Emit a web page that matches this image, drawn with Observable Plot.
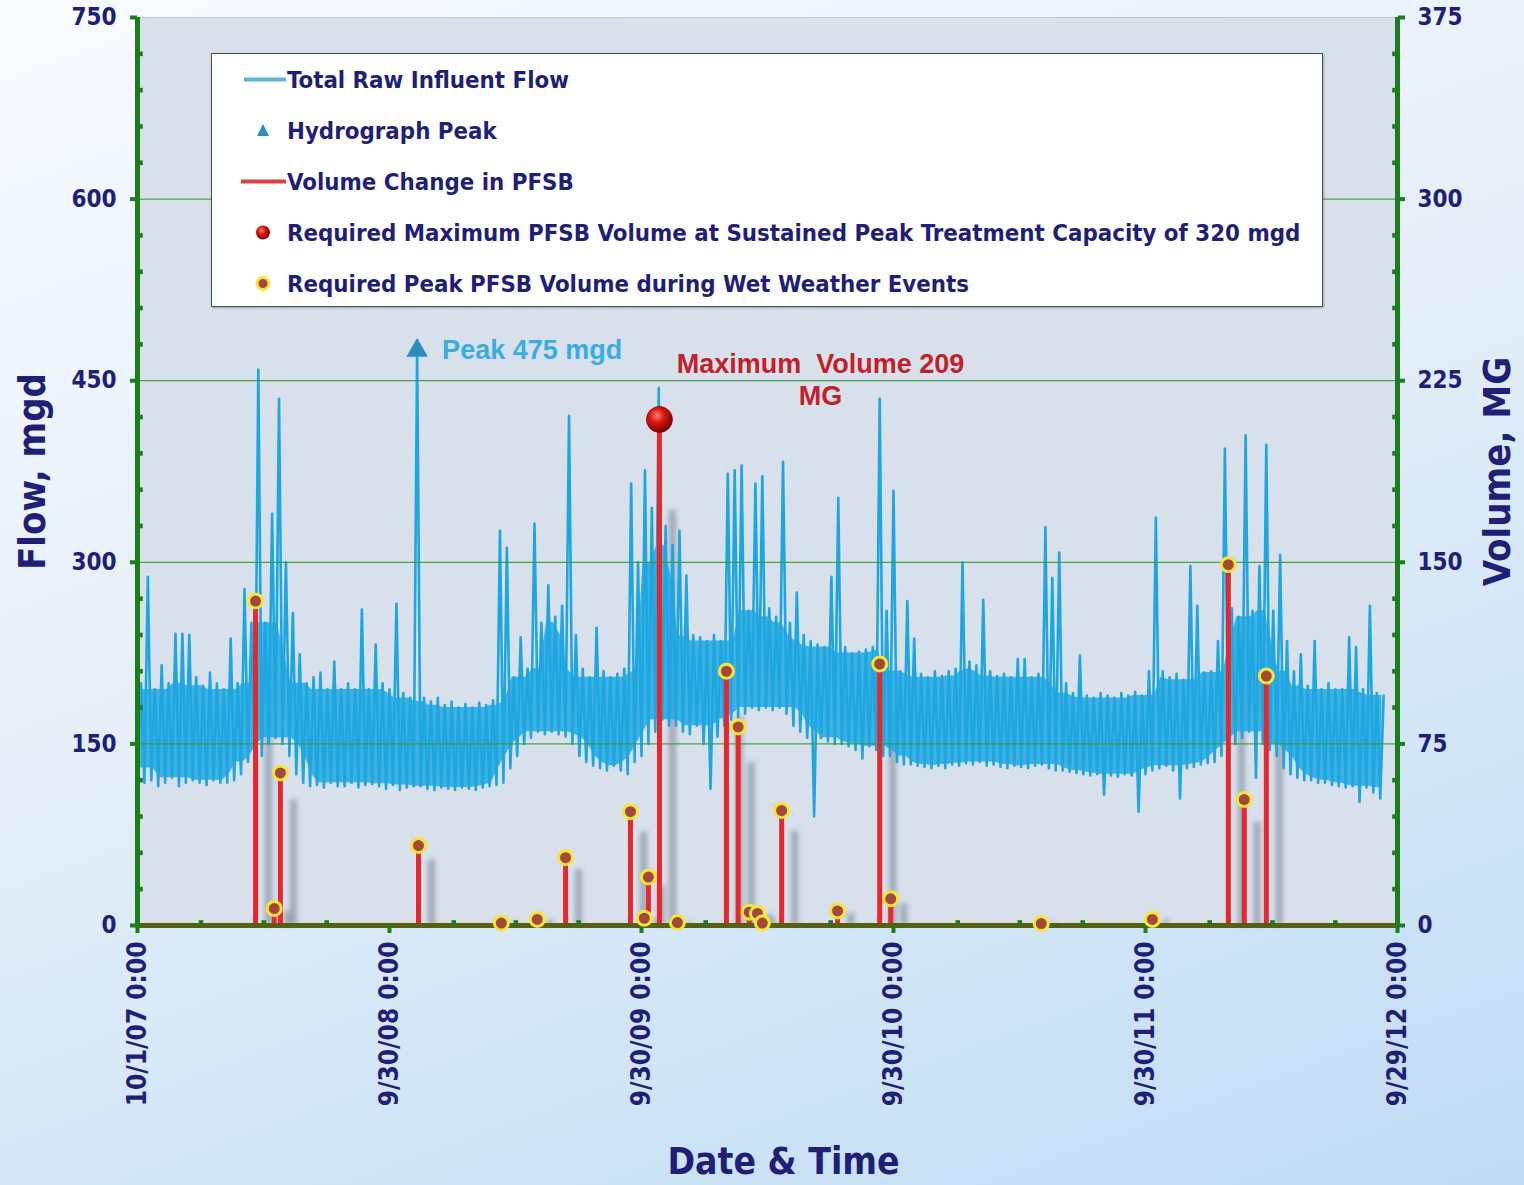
<!DOCTYPE html>
<html>
<head>
<meta charset="utf-8">
<script src="https://cdn.jsdelivr.net/npm/d3@7"></script>
<script src="https://cdn.jsdelivr.net/npm/@observablehq/plot@0.6"></script>
<style>
  html, body { margin: 0; padding: 0; }
  #wrap {
    position: relative; width: 1524px; height: 1185px; overflow: hidden;
    background: linear-gradient(160deg, #f8fbfe 0%, #e4eff9 45%, #c0dcf4 100%);
    font-family: "DejaVu Sans Condensed", "DejaVu Sans", sans-serif;
    font-stretch: condensed;
  }
  #legend {
    position: absolute; left: 211px; top: 53px; width: 1112px; height: 254px;
    background: #ffffff; border: 1.5px solid #46524a; box-sizing: border-box;
    box-shadow: 1px 1px 2px rgba(60,70,80,0.4);
  }
  #legend .row { display: flex; align-items: center; height: 51px; }
  #legend .row svg { flex: none; }
  #legend .row span { font-size: 23.8px; font-weight: bold; color: #1f1f78; white-space: nowrap; margin-left: 0px; }
</style>
</head>
<body>
<div id="wrap"><div id="chart"></div><div id="legend"></div></div>
<script>
// ---------------- data ----------------
const startDate = "2007-10-01";
const endDate = "2012-09-29";
const sampleStepDays = 10; // one low and one high reading per 10-day window

const flowLow = [
  130,118,120,115,118,122,115,118,120,118,
  116,120,118,118,120,125,135,131,140,150,
  155,150,140,125,118,115,116,114,118,115,
  115,118,114,116,117,115,113,116,112,114,
  115,115,113,112,114,113,112,114,113,112,
  114,115,116,118,130,140,150,155,160,158,
  160,158,156,150,140,135,132,130,128,132,
  128,125,135,140,150,160,170,165,165,160,
  158,165,150,113,156,165,170,172,175,180,
  178,180,178,180,175,165,160,155,90,155,
  152,150,150,148,145,138,148,145,140,140,
  135,133,133,132,131,130,132,130,133,132,
  134,133,135,132,133,131,130,132,131,130,
  132,133,130,128,128,127,126,125,124,125,
  108,124,123,125,124,94,125,128,130,132,
  128,105,130,131,133,134,135,140,145,150,
  155,160,122,150,145,140,130,125,122,120,
  120,118,118,116,115,114,115,102,114,110,
  105
];
const flowHigh = [
  200,288,195,215,200,241,241,240,205,198,
  209,200,195,237,200,278,250,459,250,340,
  435,300,258,224,200,205,209,195,218,195,
  200,195,261,195,232,200,195,266,192,188,
  475,188,185,188,182,185,180,183,180,184,
  182,186,326,312,205,238,212,332,250,281,
  255,264,421,240,212,205,246,210,205,208,
  212,365,300,376,345,444,330,314,326,289,
  240,238,235,240,235,373,376,380,260,365,
  371,262,255,383,250,275,240,235,232,230,
  288,353,230,225,226,228,230,435,260,359,
  210,268,237,208,205,210,206,210,212,300,
  218,215,269,210,206,208,205,220,220,205,
  208,329,287,308,200,192,223,190,188,192,
  190,188,192,190,193,190,210,337,210,205,
  208,203,297,264,209,210,235,394,262,255,
  405,260,297,397,260,306,235,210,224,198,
  235,195,200,195,195,238,230,195,264,192,
  190
];

const eventDates = [
  "2008-03-20","2008-04-16","2008-04-25","2008-11-11","2009-03-11","2009-05-02",
  "2009-06-12","2009-09-14","2009-10-04","2009-10-10","2009-11-21","2010-01-31",
  "2010-02-17","2010-03-05","2010-03-17","2010-03-24","2010-04-21","2010-07-11",
  "2010-09-10","2010-09-26","2011-05-02","2011-10-10","2012-01-28","2012-02-20",
  "2012-03-23"
];
const eventVolumes = [
  134, 7, 63, 33, 1, 2.5,
  28, 47, 3, 20, 1.2, 105,
  82, 5.5, 5, 1, 47.5, 6,
  108, 11, 0.8, 2.5, 149, 52,
  103
];
const maxVolumeDate = "2009-10-26";
const maxVolume = 209;

const xTickDates = ["2007-10-01","2008-09-30","2009-09-30","2010-09-30","2011-09-30","2012-09-29"];
const xTickLabels = ["10/1/07 0:00","9/30/08 0:00","9/30/09 0:00","9/30/10 0:00","9/30/11 0:00","9/29/12 0:00"];
const flowTicks = [0,150,300,450,600,750];
const volumeTicks = [0,75,150,225,300,375];

const legendLabels = [
  "Total Raw Influent Flow",
  "Hydrograph Peak",
  "Volume Change in PFSB",
  "Required Maximum PFSB Volume at Sustained Peak Treatment Capacity of 320 mgd",
  "Required Peak PFSB Volume during Wet Weather Events"
];

// ---------------- build ----------------
const DAY = 864e5;
const utc = s => new Date(s + "T00:00:00Z");
const tStart = utc(startDate), tEnd = utc(endDate);
const VF = flowTicks[flowTicks.length - 1] / volumeTicks[volumeTicks.length - 1];

const flowData = [];
flowLow.forEach((v, i) => {
  flowData.push({date: new Date(+tStart + i * sampleStepDays * DAY), flow: v});
  flowData.push({date: new Date(+tStart + (i * sampleStepDays + sampleStepDays / 2) * DAY), flow: flowHigh[i]});
});
// dense daily band: envelope of the same readings without isolated storm spikes/dips
const win = (arr, i, f) => f(arr.slice(Math.max(0, i - 2), i + 3));
const bandData = flowLow.map((v, i) => ({
  date: new Date(+tStart + (i * sampleStepDays + sampleStepDays / 4) * DAY),
  low: win(flowLow, i, d3.max),
  high: win(flowHigh, i, d3.min)
}));
const peak = d3.greatest(flowData, d => d.flow);

const events = eventDates.map((d, i) => ({date: utc(d), vol: eventVolumes[i]}));
const maxEvent = {date: utc(maxVolumeDate), vol: maxVolume};
const allEvents = events.concat([maxEvent]);

const xTicks = xTickDates.map(utc);
const labelMap = new Map(xTicks.map((d, i) => [+d, xTickLabels[i]]));
const volMap = new Map(flowTicks.map((d, i) => [d, volumeTicks[i]]));
const minorFlow = d3.range(0, 751, 30).filter(v => !flowTicks.includes(v));
const quarters = d3.utcMonth.every(3).range(tStart, tEnd).filter(d => !xTicks.some(t => Math.abs(t - d) < 5 * DAY));

const green = "#1b7d1b", navy = "#1f1f78";
const FONT = '"DejaVu Sans Condensed", "DejaVu Sans", sans-serif';
const ANN = '"Liberation Sans", Arial, sans-serif';

const plot = Plot.plot({
  width: 1524, height: 1185,
  marginLeft: 137, marginRight: 127, marginTop: 17, marginBottom: 260,
  style: {background: "transparent", fontFamily: FONT, fontStretch: "condensed", overflow: "visible"},
  x: {type: "utc", domain: [tStart, tEnd]},
  y: {domain: [0, 750]},
  marks: [
    Plot.frame({fill: "#d8e0eb", stroke: "#c3c9d1"}),
    Plot.ruleX(allEvents, {x: "date", y1: 0, y2: d => d.vol * VF * 0.82, dx: 13, stroke: "#6e7a90", strokeOpacity: 0.55, strokeWidth: 7, ariaDescription: "shadow"}),
    Plot.areaY(bandData, {x: "date", y1: "low", y2: "high", fill: "#22a8e2", fillOpacity: 0.85}),
    Plot.line(flowData, {x: "date", y: "flow", stroke: "#1ea6e0", strokeWidth: 2.6}),
    Plot.gridY(flowTicks.slice(1, -1), {stroke: "#3a9a3a", strokeOpacity: 0.9, strokeWidth: 1.2}),
    Plot.ruleX(allEvents, {x: "date", y1: 0, y2: d => d.vol * VF, stroke: "#e8262c", strokeWidth: 5}),
    Plot.ruleY([0], {stroke: "#56600f", strokeWidth: 5}),
    Plot.ruleX([tStart], {stroke: green, strokeWidth: 5}),
    Plot.ruleX([tEnd], {stroke: green, strokeWidth: 5}),
    Plot.dot(minorFlow, {x: () => tStart, y: d => d, symbol: "square", r: 2.6, fill: green, dx: 3}),
    Plot.dot(minorFlow, {x: () => tEnd, y: d => d, symbol: "square", r: 2.6, fill: green, dx: -3}),
    Plot.dot(quarters, {x: d => d, y: () => 0, symbol: "square", r: 2.6, fill: green, dy: -3}),
    Plot.axisY(flowTicks, {anchor: "left", label: null, tickSize: 7, tickPadding: 14, stroke: green, strokeWidth: 4,
      fill: navy, fontSize: 24, fontWeight: "bold", tickFormat: d => String(d)}),
    Plot.axisY(flowTicks, {anchor: "right", label: null, tickSize: 7, tickPadding: 13, stroke: green, strokeWidth: 4,
      fill: navy, fontSize: 24, fontWeight: "bold", tickFormat: d => String(volMap.get(d))}),
    Plot.axisX(xTicks, {anchor: "bottom", label: null, tickSize: 8, tickPadding: 8, tickRotate: -90, stroke: green, strokeWidth: 4,
      fill: navy, fontSize: 26, fontWeight: "bold", tickFormat: d => labelMap.get(+d)}),
    Plot.dot(events, {x: "date", y: d => d.vol * VF, r: 7, fill: "#a4483c", stroke: "#f3e53a", strokeWidth: 3}),
    Plot.dot([maxEvent], {x: "date", y: d => d.vol * VF, r: 13, fill: "url(#maxGrad)", stroke: "#8a0808", strokeWidth: 0.8}),
    Plot.dot([peak], {x: "date", y: "flow", symbol: "triangle", r: 8, fill: "#2b8cc2"}),
    Plot.text([peak], {x: "date", y: "flow", text: d => `Peak ${d.flow} mgd`, textAnchor: "start", dx: 25,
      fontSize: 27, fontWeight: "bold", fill: "#38aee0", fontFamily: ANN}),
    Plot.text([maxEvent], {x: "date", y: d => d.vol * VF, text: d => `Maximum\u00a0 Volume ${d.vol}\nMG`, dx: 161, dy: -41,
      lineHeight: 1.2, fontSize: 27, fontWeight: "bold", fill: "#c2202b", fontFamily: ANN}),
    Plot.text(["Flow, mgd"], {text: d => d, frameAnchor: "left", textAnchor: "middle", dx: -105, rotate: -90, fontSize: 38, fontWeight: "bold", fill: navy}),
    Plot.text(["Volume, MG"], {text: d => d, frameAnchor: "right", textAnchor: "middle", dx: 100, rotate: -90, fontSize: 38, fontWeight: "bold", fill: navy}),
    Plot.text(["Date & Time"], {text: d => d, frameAnchor: "bottom", dx: 16, dy: 248, fontSize: 37, fontWeight: "bold", fill: navy})
  ]
});

const svg = d3.select(plot);
svg.insert("defs", ":first-child").html(
  '<radialGradient id="maxGrad" cx="40%" cy="35%" r="65%">' +
  '<stop offset="0" stop-color="#ff7d6e"/><stop offset="0.45" stop-color="#d41414"/><stop offset="1" stop-color="#780505"/></radialGradient>' +
  '<filter id="blurShadow" x="-200%" y="-10%" width="500%" height="120%"><feGaussianBlur stdDeviation="2.5"/></filter>'
);
svg.selectAll('g[aria-description="shadow"]').attr("filter", "url(#blurShadow)");
document.getElementById("chart").appendChild(plot);

// ---------------- legend ----------------
const swatches = [
  g => g.append("line").attr("x1", 32).attr("x2", 74).attr("y1", 25.5).attr("y2", 25.5).attr("stroke", "#5ab6d8").attr("stroke-width", 4),
  g => g.append("path").attr("d", "M51,19 L57,31 L45,31 Z").attr("fill", "#2b8cc2"),
  g => g.append("line").attr("x1", 29).attr("x2", 74).attr("y1", 25.5).attr("y2", 25.5).attr("stroke", "#d8403f").attr("stroke-width", 4),
  g => g.append("circle").attr("cx", 51).attr("cy", 25.5).attr("r", 7).attr("fill", "url(#maxGrad2)"),
  g => g.append("circle").attr("cx", 51).attr("cy", 25.5).attr("r", 6).attr("fill", "#a4483c").attr("stroke", "#f3e53a").attr("stroke-width", 3)
];
const legend = d3.select("#legend");
legendLabels.forEach((label, i) => {
  const row = legend.append("div").attr("class", "row");
  const s = row.append("svg").attr("width", 75).attr("height", 51);
  if (i === 3) {
    s.append("defs").html('<radialGradient id="maxGrad2" cx="40%" cy="35%" r="65%"><stop offset="0" stop-color="#ff7d6e"/><stop offset="0.45" stop-color="#d41414"/><stop offset="1" stop-color="#780505"/></radialGradient>');
  }
  swatches[i](s);
  row.append("span").text(label);
});
</script>
</body>
</html>
